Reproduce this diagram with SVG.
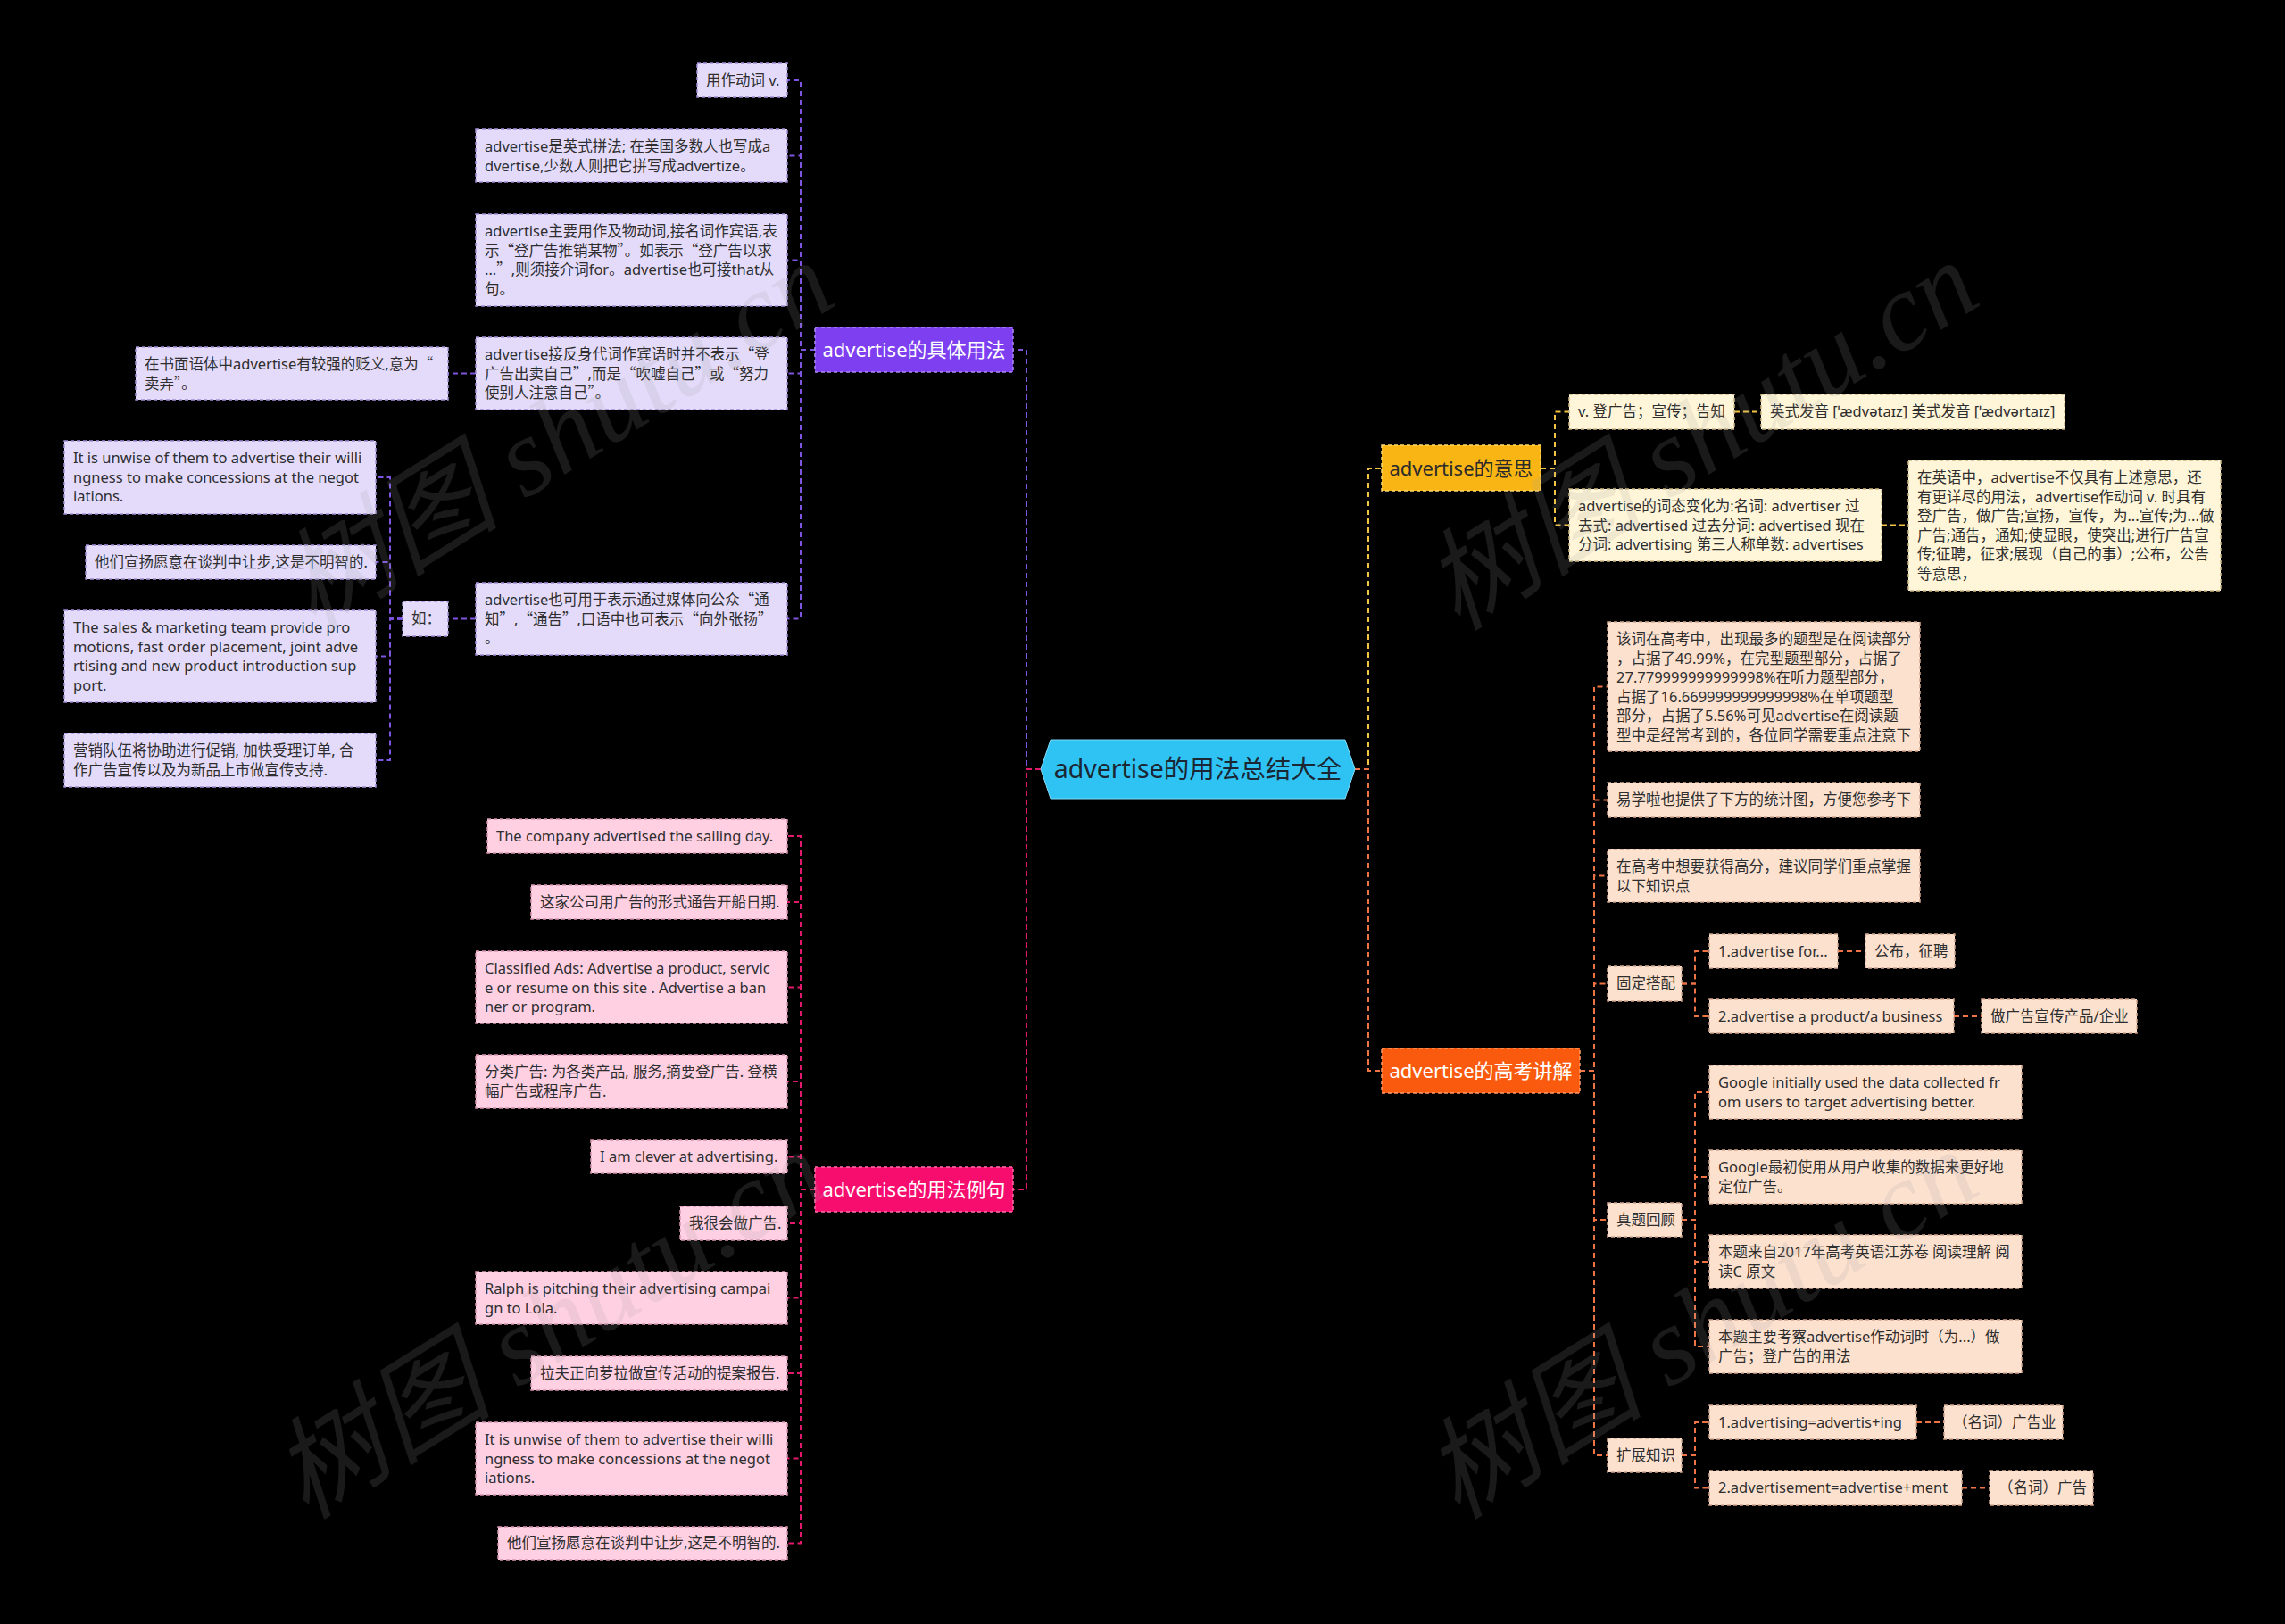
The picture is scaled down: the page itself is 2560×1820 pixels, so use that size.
<svg xmlns="http://www.w3.org/2000/svg" width="2560" height="1820" viewBox="0 0 2560 1820">
<defs>
<style>
text{font-family:"Noto Sans","Noto Sans CJK SC",sans-serif;}
.t{font-size:16.5px;fill:#2e2e2e;}
.q{font-family:"Noto Sans CJK SC",sans-serif;}
.bt{font-size:22px;text-anchor:middle;}
.cp{fill:#e4dbfa;stroke:#a48fd6;stroke-width:1.5;stroke-dasharray:4 3;}
.ck{fill:#ffcfe2;stroke:#d897b3;stroke-width:1.5;stroke-dasharray:4 3;}
.cy{fill:#fff5d8;stroke:#cdb985;stroke-width:1.5;stroke-dasharray:4 3;}
.co{fill:#fde1cf;stroke:#d3a68e;stroke-width:1.5;stroke-dasharray:4 3;}
.lp{fill:none;stroke:#7e55e0;stroke-width:2;stroke-dasharray:6 4;}
.lk{fill:none;stroke:#e0196a;stroke-width:2;stroke-dasharray:6 4;}
.ly{fill:none;stroke:#f3c443;stroke-width:2;stroke-dasharray:6 4;}
.lo{fill:none;stroke:#ee7444;stroke-width:2;stroke-dasharray:6 4;}
.wm{font-family:"Liberation Serif","Noto Sans CJK SC",serif;font-size:124px;font-style:italic;fill:#a0a0a0;opacity:0.16;}
</style>
</defs>
<rect x="0" y="0" width="2560" height="1820" fill="#000"/>

<g id="connectors">
<path class="lp" d="M1166,862 H1150 V392 H1135"/>
<path class="lk" d="M1166,862 H1150 V1333 H1135"/>
<path class="ly" d="M1518,862 H1533 V525 H1548"/>
<path class="lo" d="M1518,862 H1533 V1200 H1548"/>
<path class="lp" d="M913,392 H897 V90 H882"/>
<path class="lp" d="M913,392 H897 V174.5 H882"/>
<path class="lp" d="M913,392 H897 V291.5 H882"/>
<path class="lp" d="M913,392 H897 V418.5 H882"/>
<path class="lp" d="M913,392 H897 V693.5 H882"/>
<path class="lp" d="M533,418.5 H502"/>
<path class="lp" d="M533,693.5 H502"/>
<path class="lp" d="M451,693.5 H437 V535 H421"/>
<path class="lp" d="M451,693.5 H437 V630 H421"/>
<path class="lp" d="M451,693.5 H437 V735.5 H421"/>
<path class="lp" d="M451,693.5 H437 V852 H421"/>
<path class="lk" d="M913,1333 H897 V937 H882"/>
<path class="lk" d="M913,1333 H897 V1011 H882"/>
<path class="lk" d="M913,1333 H897 V1106.5 H882"/>
<path class="lk" d="M913,1333 H897 V1212 H882"/>
<path class="lk" d="M913,1333 H897 V1296.5 H882"/>
<path class="lk" d="M913,1333 H897 V1371 H882"/>
<path class="lk" d="M913,1333 H897 V1454.5 H882"/>
<path class="lk" d="M913,1333 H897 V1539 H882"/>
<path class="lk" d="M913,1333 H897 V1634.5 H882"/>
<path class="lk" d="M913,1333 H897 V1729.5 H882"/>
<path class="ly" d="M1726,525 H1742 V461.5 H1758"/>
<path class="ly" d="M1726,525 H1742 V588.5 H1758"/>
<path class="ly" d="M1943,461.5 H1973"/>
<path class="ly" d="M2108,588.5 H2138"/>
<path class="lo" d="M1770,1200 H1786 V769.5 H1801"/>
<path class="lo" d="M1770,1200 H1786 V896.5 H1801"/>
<path class="lo" d="M1770,1200 H1786 V981.5 H1801"/>
<path class="lo" d="M1770,1200 H1786 V1102.5 H1801"/>
<path class="lo" d="M1770,1200 H1786 V1367 H1801"/>
<path class="lo" d="M1770,1200 H1786 V1631 H1801"/>
<path class="lo" d="M1884,1102.5 H1899 V1066 H1915"/>
<path class="lo" d="M1884,1102.5 H1899 V1139 H1915"/>
<path class="lo" d="M1884,1367 H1899 V1224 H1915"/>
<path class="lo" d="M1884,1367 H1899 V1319 H1915"/>
<path class="lo" d="M1884,1367 H1899 V1414 H1915"/>
<path class="lo" d="M1884,1367 H1899 V1509 H1915"/>
<path class="lo" d="M1884,1631 H1899 V1594 H1915"/>
<path class="lo" d="M1884,1631 H1899 V1667.5 H1915"/>
<path class="lo" d="M2059,1066 H2090"/>
<path class="lo" d="M2189,1139 H2220"/>
<path class="lo" d="M2147,1594 H2178"/>
<path class="lo" d="M2198,1667.5 H2229"/>
</g>

<g id="center">
<polygon points="1166,862 1177,829 1507,829 1518,862 1507,895 1177,895" fill="#2ec3f3" stroke="#7fd9f7" stroke-width="1"/>
<text x="1342" y="872" style="font-size:28.5px;text-anchor:middle;fill:#1b2733;">advertise的用法总结大全</text>
</g>

<g id="branch-usage">
<rect x="913" y="367" width="222" height="50" fill="#7d3ff0" stroke="#a98af5" stroke-width="1.5" stroke-dasharray="4 3"/>
<text class="bt" x="1024" y="400" fill="#fff">advertise的具体用法</text>
</g>
<g id="u1"><rect class="cp" x="781" y="71" width="101" height="38"/><text class="t" x="791" y="96">用作动词 v.</text></g>
<g id="u2"><rect class="cp" x="533" y="145" width="349" height="59"/><text class="t" x="543" y="170"><tspan x="543">advertise是英式拼法; 在美国多数人也写成a</tspan><tspan x="543" dy="21.5">dvertise,少数人则把它拼写成advertize。</tspan></text></g>
<g id="u3"><rect class="cp" x="533" y="240" width="349" height="103"/><text class="t" x="543" y="265"><tspan x="543">advertise主要用作及物动词,接名词作宾语,表</tspan><tspan x="543" dy="21.5">示<tspan class="q">“</tspan>登广告推销某物<tspan class="q">”</tspan>。如表示<tspan class="q">“</tspan>登广告以求</tspan><tspan x="543" dy="21.5">...<tspan class="q">”</tspan>,则须接介词for。advertise也可接that从</tspan><tspan x="543" dy="21.5">句。</tspan></text></g>
<g id="u4"><rect class="cp" x="533" y="378" width="349" height="81"/><text class="t" x="543" y="403"><tspan x="543">advertise接反身代词作宾语时并不表示<tspan class="q">“</tspan>登</tspan><tspan x="543" dy="21.5">广告出卖自己<tspan class="q">”</tspan>,而是<tspan class="q">“</tspan>吹嘘自己<tspan class="q">”</tspan>或<tspan class="q">“</tspan>努力</tspan><tspan x="543" dy="21.5">使别人注意自己<tspan class="q">”</tspan>。</tspan></text></g>
<g id="u4a"><rect class="cp" x="152" y="389" width="350" height="59"/><text class="t" x="162" y="414"><tspan x="162">在书面语体中advertise有较强的贬义,意为<tspan class="q">“</tspan></tspan><tspan x="162" dy="21.5">卖弄<tspan class="q">”</tspan>。</tspan></text></g>
<g id="u5"><rect class="cp" x="533" y="653" width="349" height="81"/><text class="t" x="543" y="678"><tspan x="543">advertise也可用于表示通过媒体向公众<tspan class="q">“</tspan>通</tspan><tspan x="543" dy="21.5">知<tspan class="q">”</tspan>,<tspan class="q">“</tspan>通告<tspan class="q">”</tspan>,口语中也可表示<tspan class="q">“</tspan>向外张扬<tspan class="q">”</tspan></tspan><tspan x="543" dy="21.5">。</tspan></text></g>
<g id="u5a"><rect class="cp" x="451" y="674" width="51" height="39"/><text class="t" x="461" y="699">如：</text></g>
<g id="u5a1"><rect class="cp" x="72" y="494" width="349" height="82"/><text class="t" x="82" y="519"><tspan x="82">It is unwise of them to advertise their willi</tspan><tspan x="82" dy="21.5">ngness to make concessions at the negot</tspan><tspan x="82" dy="21.5">iations.</tspan></text></g>
<g id="u5a2"><rect class="cp" x="96" y="611" width="325" height="38"/><text class="t" x="106" y="636">他们宣扬愿意在谈判中让步,这是不明智的.</text></g>
<g id="u5a3"><rect class="cp" x="72" y="684" width="349" height="103"/><text class="t" x="82" y="709"><tspan x="82">The sales &amp; marketing team provide pro</tspan><tspan x="82" dy="21.5">motions, fast order placement, joint adve</tspan><tspan x="82" dy="21.5">rtising and new product introduction sup</tspan><tspan x="82" dy="21.5">port.</tspan></text></g>
<g id="u5a4"><rect class="cp" x="72" y="822" width="349" height="60"/><text class="t" x="82" y="847"><tspan x="82">营销队伍将协助进行促销, 加快受理订单, 合</tspan><tspan x="82" dy="21.5">作广告宣传以及为新品上市做宣传支持.</tspan></text></g>

<g id="branch-examples">
<rect x="913" y="1308" width="222" height="50" fill="#f70d6e" stroke="#ff6fa8" stroke-width="1.5" stroke-dasharray="4 3"/>
<text class="bt" x="1024" y="1341" fill="#fff">advertise的用法例句</text>
</g>
<g id="e1"><rect class="ck" x="546" y="918" width="336" height="38"/><text class="t" x="556" y="943">The company advertised the sailing day.</text></g>
<g id="e2"><rect class="ck" x="595" y="992" width="287" height="38"/><text class="t" x="605" y="1017">这家公司用广告的形式通告开船日期.</text></g>
<g id="e3"><rect class="ck" x="533" y="1066" width="349" height="81"/><text class="t" x="543" y="1091"><tspan x="543">Classified Ads: Advertise a product, servic</tspan><tspan x="543" dy="21.5">e or resume on this site . Advertise a ban</tspan><tspan x="543" dy="21.5">ner or program.</tspan></text></g>
<g id="e4"><rect class="ck" x="533" y="1182" width="349" height="60"/><text class="t" x="543" y="1207"><tspan x="543">分类广告: 为各类产品, 服务,摘要登广告. 登横</tspan><tspan x="543" dy="21.5">幅广告或程序广告.</tspan></text></g>
<g id="e5"><rect class="ck" x="662" y="1278" width="220" height="37"/><text class="t" x="672" y="1302">I am clever at advertising.</text></g>
<g id="e6"><rect class="ck" x="762" y="1352" width="120" height="38"/><text class="t" x="772" y="1377">我很会做广告.</text></g>
<g id="e7"><rect class="ck" x="533" y="1425" width="349" height="59"/><text class="t" x="543" y="1450"><tspan x="543">Ralph is pitching their advertising campai</tspan><tspan x="543" dy="21.5">gn to Lola.</tspan></text></g>
<g id="e8"><rect class="ck" x="595" y="1520" width="287" height="38"/><text class="t" x="605" y="1545">拉夫正向萝拉做宣传活动的提案报告.</text></g>
<g id="e9"><rect class="ck" x="533" y="1594" width="349" height="81"/><text class="t" x="543" y="1619"><tspan x="543">It is unwise of them to advertise their willi</tspan><tspan x="543" dy="21.5">ngness to make concessions at the negot</tspan><tspan x="543" dy="21.5">iations.</tspan></text></g>
<g id="e10"><rect class="ck" x="558" y="1711" width="324" height="37"/><text class="t" x="568" y="1735">他们宣扬愿意在谈判中让步,这是不明智的.</text></g>

<g id="branch-meaning">
<rect x="1548" y="499" width="178" height="51" fill="#f9b514" stroke="#ffd66e" stroke-width="1.5" stroke-dasharray="4 3"/>
<text class="bt" x="1637" y="533" fill="#2b2b2b">advertise的意思</text>
</g>
<g id="m1"><rect class="cy" x="1758" y="442" width="185" height="39"/><text class="t" x="1768" y="467">v. 登广告；宣传；告知</text></g>
<g id="m1a"><rect class="cy" x="1973" y="442" width="340" height="39"/><text class="t" x="1983" y="467">英式发音 [ˈædvətaɪz] 美式发音 [ˈædvərtaɪz]</text></g>
<g id="m2"><rect class="cy" x="1758" y="548" width="350" height="81"/><text class="t" x="1768" y="573"><tspan x="1768">advertise的词态变化为:名词: advertiser 过</tspan><tspan x="1768" dy="21.5">去式: advertised 过去分词: advertised 现在</tspan><tspan x="1768" dy="21.5">分词: advertising 第三人称单数: advertises</tspan></text></g>
<g id="m2a"><rect class="cy" x="2138" y="516" width="350" height="146"/><text class="t" x="2148" y="541"><tspan x="2148">在英语中，advertise不仅具有上述意思，还</tspan><tspan x="2148" dy="21.5">有更详尽的用法，advertise作动词 v. 时具有</tspan><tspan x="2148" dy="21.5">登广告，做广告;宣扬，宣传，为...宣传;为...做</tspan><tspan x="2148" dy="21.5">广告;通告，通知;使显眼，使突出;进行广告宣</tspan><tspan x="2148" dy="21.5">传;征聘，征求;展现（自己的事）;公布，公告</tspan><tspan x="2148" dy="21.5">等意思，</tspan></text></g>

<g id="branch-exam">
<rect x="1548" y="1175" width="222" height="50" fill="#f95a0e" stroke="#ff9a66" stroke-width="1.5" stroke-dasharray="4 3"/>
<text class="bt" x="1659" y="1208" fill="#fff">advertise的高考讲解</text>
</g>
<g id="x1"><rect class="co" x="1801" y="697" width="350" height="145"/><text class="t" x="1811" y="722"><tspan x="1811">该词在高考中，出现最多的题型是在阅读部分</tspan><tspan x="1811" dy="21.5">，占据了49.99%，在完型题型部分，占据了</tspan><tspan x="1811" dy="21.5">27.779999999999998%在听力题型部分，</tspan><tspan x="1811" dy="21.5">占据了16.669999999999998%在单项题型</tspan><tspan x="1811" dy="21.5">部分，占据了5.56%可见advertise在阅读题</tspan><tspan x="1811" dy="21.5">型中是经常考到的，各位同学需要重点注意下</tspan></text></g>
<g id="x2"><rect class="co" x="1801" y="877" width="350" height="39"/><text class="t" x="1811" y="902">易学啦也提供了下方的统计图，方便您参考下</text></g>
<g id="x3"><rect class="co" x="1801" y="952" width="350" height="59"/><text class="t" x="1811" y="977"><tspan x="1811">在高考中想要获得高分，建议同学们重点掌握</tspan><tspan x="1811" dy="21.5">以下知识点</tspan></text></g>
<g id="x4"><rect class="co" x="1801" y="1083" width="83" height="39"/><text class="t" x="1811" y="1108">固定搭配</text></g>
<g id="x4a"><rect class="co" x="1915" y="1047" width="144" height="38"/><text class="t" x="1925" y="1072">1.advertise for...</text></g>
<g id="x4a1"><rect class="co" x="2090" y="1047" width="100" height="38"/><text class="t" x="2100" y="1072">公布，征聘</text></g>
<g id="x4b"><rect class="co" x="1915" y="1120" width="274" height="38"/><text class="t" x="1925" y="1145">2.advertise a product/a business</text></g>
<g id="x4b1"><rect class="co" x="2220" y="1120" width="174" height="38"/><text class="t" x="2230" y="1145">做广告宣传产品/企业</text></g>
<g id="x5"><rect class="co" x="1801" y="1348" width="83" height="38"/><text class="t" x="1811" y="1373">真题回顾</text></g>
<g id="x5a"><rect class="co" x="1915" y="1194" width="350" height="60"/><text class="t" x="1925" y="1219"><tspan x="1925">Google initially used the data collected fr</tspan><tspan x="1925" dy="21.5">om users to target advertising better.</tspan></text></g>
<g id="x5b"><rect class="co" x="1915" y="1289" width="350" height="60"/><text class="t" x="1925" y="1314"><tspan x="1925">Google最初使用从用户收集的数据来更好地</tspan><tspan x="1925" dy="21.5">定位广告。</tspan></text></g>
<g id="x5c"><rect class="co" x="1915" y="1384" width="350" height="60"/><text class="t" x="1925" y="1409"><tspan x="1925">本题来自2017年高考英语江苏卷 阅读理解 阅</tspan><tspan x="1925" dy="21.5">读C 原文</tspan></text></g>
<g id="x5d"><rect class="co" x="1915" y="1479" width="350" height="60"/><text class="t" x="1925" y="1504"><tspan x="1925">本题主要考察advertise作动词时（为...）做</tspan><tspan x="1925" dy="21.5">广告；登广告的用法</tspan></text></g>
<g id="x6"><rect class="co" x="1801" y="1612" width="83" height="38"/><text class="t" x="1811" y="1637">扩展知识</text></g>
<g id="x6a"><rect class="co" x="1915" y="1575" width="232" height="38"/><text class="t" x="1925" y="1600">1.advertising=advertis+ing</text></g>
<g id="x6a1"><rect class="co" x="2178" y="1575" width="133" height="38"/><text class="t" x="2188" y="1600">（名词）广告业</text></g>
<g id="x6b"><rect class="co" x="1915" y="1648" width="283" height="39"/><text class="t" x="1925" y="1673">2.advertisement=advertise+ment</text></g>
<g id="x6b1"><rect class="co" x="2229" y="1648" width="116" height="39"/><text class="t" x="2239" y="1673">（名词）广告</text></g>

<g id="watermarks">
<text class="wm" transform="translate(351,708) rotate(-32)">树图 shutu.cn</text>
<text class="wm" transform="translate(343,1704) rotate(-32)">树图 shutu.cn</text>
<text class="wm" transform="translate(1633,708) rotate(-32)">树图 shutu.cn</text>
<text class="wm" transform="translate(1633,1704) rotate(-32)">树图 shutu.cn</text>
</g>
</svg>
